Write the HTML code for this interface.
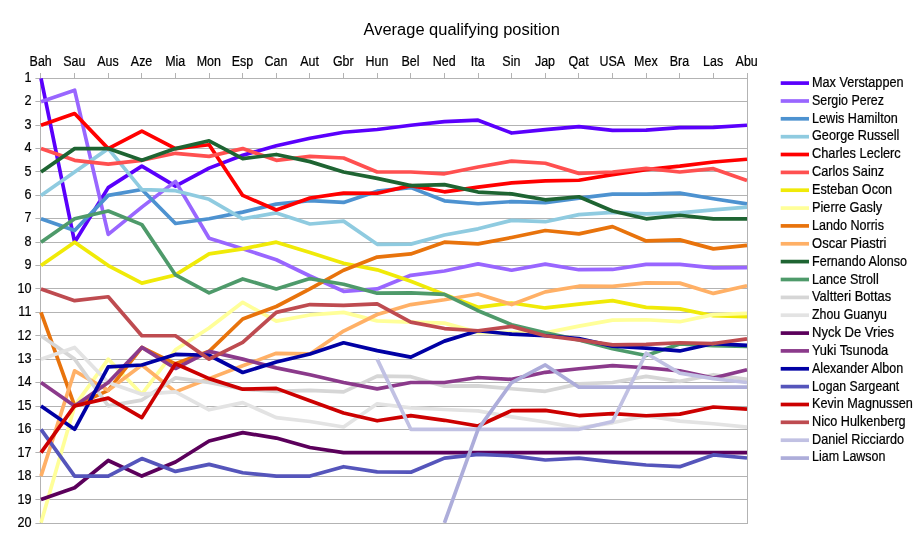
<!DOCTYPE html>
<html lang="en"><head><meta charset="utf-8"><title>Average qualifying position</title>
<style>html,body{margin:0;padding:0;background:#fff}svg{display:block}</style></head>
<body>
<svg width="924" height="541" viewBox="0 0 924 541">
<rect width="924" height="541" fill="#fff"/>
<path d="M35.4 78.5H748 M35.4 101.5H748 M35.4 125.5H748 M35.4 148.5H748 M35.4 171.5H748 M35.4 195.5H748 M35.4 218.5H748 M35.4 242.5H748 M35.4 265.5H748 M35.4 288.5H748 M35.4 312.5H748 M35.4 335.5H748 M35.4 359.5H748 M35.4 382.5H748 M35.4 406.5H748 M35.4 429.5H748 M35.4 452.5H748 M35.4 476.5H748 M35.4 499.5H748 M35.4 523.5H748 M40.5 78V524 M747.5 78V524 M40.5 73V79 M74.5 73V79 M108.5 73V79 M141.5 73V79 M175.5 73V79 M209.5 73V79 M242.5 73V79 M276.5 73V79 M309.5 73V79 M343.5 73V79 M377.5 73V79 M410.5 73V79 M444.5 73V79 M478.5 73V79 M511.5 73V79 M545.5 73V79 M578.5 73V79 M612.5 73V79 M646.5 73V79 M679.5 73V79 M713.5 73V79 M747.5 73V79" stroke="#b3b3b3" stroke-width="1" fill="none"/>
<clipPath id="c"><rect x="30" y="60" width="717.5" height="463.36"/></clipPath>
<g clip-path="url(#c)" fill="none" stroke-linejoin="round" stroke-linecap="butt">
<polyline points="41.00,78.45 74.62,242.18 108.24,187.60 141.86,166.16 175.48,186.04 209.10,168.11 242.71,155.30 276.33,145.70 309.95,138.22 343.57,132.25 377.19,129.48 410.81,125.23 444.43,121.63 478.05,120.22 511.67,133.03 545.29,129.62 578.90,126.61 612.52,130.43 646.14,130.15 679.76,127.57 713.38,127.46 747.00,125.23" stroke="#5a00fc" stroke-width="3.7"/>
<polyline points="41.00,101.84 74.62,90.15 108.24,234.38 141.86,207.10 175.48,181.37 209.10,238.28 242.71,248.86 276.33,259.72 309.95,275.97 343.57,291.30 377.19,288.96 410.81,275.32 444.43,270.97 478.05,263.90 511.67,270.25 545.29,264.11 578.90,269.70 612.52,269.47 646.14,264.34 679.76,264.40 713.38,267.80 747.00,267.70" stroke="#9966ff" stroke-width="3.7"/>
<polyline points="41.00,218.79 74.62,230.49 108.24,195.40 141.86,189.55 175.48,223.47 209.10,218.79 242.71,212.11 276.33,204.17 309.95,200.60 343.57,202.42 377.19,191.15 410.81,187.60 444.43,200.80 478.05,203.75 511.67,201.64 545.29,202.71 578.90,198.15 612.52,194.10 646.14,194.17 679.76,193.06 713.38,198.74 747.00,203.91" stroke="#4d92d0" stroke-width="3.7"/>
<polyline points="41.00,195.40 74.62,172.01 108.24,148.62 141.86,189.55 175.48,190.72 209.10,199.30 242.71,218.79 276.33,212.94 309.95,223.99 343.57,221.13 377.19,244.31 410.81,244.13 444.43,234.98 478.05,228.81 511.67,220.35 545.29,221.71 578.90,214.66 612.52,212.29 646.14,213.87 679.76,212.94 713.38,209.88 747.00,207.10" stroke="#8fcbe0" stroke-width="3.7"/>
<polyline points="41.00,125.23 74.62,113.53 108.24,148.62 141.86,131.08 175.48,148.62 209.10,144.72 242.71,195.40 276.33,210.02 309.95,198.00 343.57,193.06 377.19,193.27 410.81,185.65 444.43,191.80 478.05,187.05 511.67,182.93 545.29,180.78 578.90,180.27 612.52,174.61 646.14,169.55 679.76,166.16 713.38,161.99 747.00,159.25" stroke="#ff0000" stroke-width="3.7"/>
<polyline points="41.00,148.62 74.62,160.31 108.24,164.21 141.86,160.31 175.48,153.30 209.10,156.42 242.71,148.62 276.33,160.31 309.95,156.42 343.57,157.98 377.19,172.01 410.81,172.01 444.43,173.81 478.05,167.00 511.67,161.09 545.29,163.24 578.90,173.39 612.52,172.01 646.14,168.32 679.76,172.01 713.38,168.67 747.00,180.52" stroke="#ff5050" stroke-width="3.7"/>
<polyline points="41.00,265.57 74.62,242.18 108.24,265.57 141.86,283.11 175.48,274.93 209.10,253.88 242.71,248.86 276.33,242.18 309.95,252.58 343.57,263.23 377.19,269.82 410.81,281.16 444.43,294.36 478.05,307.34 511.67,302.99 545.29,307.96 578.90,304.09 612.52,300.66 646.14,307.43 679.76,308.84 713.38,315.69 747.00,316.60" stroke="#f0ea08" stroke-width="3.7"/>
<polyline points="41.00,522.86 74.62,405.91 108.24,359.13 141.86,394.22 175.48,349.77 209.10,327.94 242.71,302.33 276.33,321.12 309.95,314.95 343.57,312.35 377.19,320.86 410.81,322.10 444.43,323.15 478.05,332.40 511.67,332.62 545.29,332.82 578.90,326.11 612.52,320.15 646.14,319.74 679.76,321.71 713.38,314.58 747.00,313.41" stroke="#ffff99" stroke-width="3.7"/>
<polyline points="41.00,312.35 74.62,405.91 108.24,390.32 141.86,347.44 175.48,363.81 209.10,351.33 242.71,319.03 276.33,306.50 309.95,288.96 343.57,270.25 377.19,257.06 410.81,253.88 444.43,242.18 478.05,243.85 511.67,237.50 545.29,230.49 578.90,233.92 612.52,226.59 646.14,240.95 679.76,239.84 713.38,248.86 747.00,245.37" stroke="#e8730c" stroke-width="3.7"/>
<polyline points="41.00,476.08 74.62,370.82 108.24,390.32 141.86,364.98 175.48,391.88 209.10,378.62 242.71,365.81 276.33,353.28 309.95,353.93 343.57,331.06 377.19,314.48 410.81,304.55 444.43,299.76 478.05,293.97 511.67,304.55 545.29,291.88 578.90,286.21 612.52,286.36 646.14,282.80 679.76,283.11 713.38,293.42 747.00,285.77" stroke="#ffb066" stroke-width="3.7"/>
<polyline points="41.00,172.01 74.62,148.62 108.24,148.62 141.86,160.31 175.48,148.62 209.10,140.82 242.71,158.64 276.33,154.47 309.95,161.61 343.57,172.01 377.19,178.39 410.81,185.65 444.43,184.60 478.05,192.06 511.67,193.84 545.29,199.79 578.90,196.78 612.52,210.99 646.14,218.79 679.76,215.28 713.38,218.79 747.00,218.79" stroke="#1e6432" stroke-width="3.7"/>
<polyline points="41.00,242.18 74.62,218.79 108.24,210.99 141.86,224.64 175.48,274.93 209.10,292.86 242.71,278.94 276.33,288.96 309.95,278.56 343.57,284.28 377.19,293.21 410.81,292.86 444.43,294.36 478.05,310.68 511.67,324.82 545.29,332.82 578.90,339.87 612.52,348.73 646.14,355.44 679.76,343.93 713.38,345.76 747.00,346.37" stroke="#4e9a6a" stroke-width="3.7"/>
<polyline points="41.00,335.74 74.62,359.13 108.24,405.91 141.86,400.06 175.48,377.84 209.10,382.52 242.71,389.20 276.33,391.29 309.95,390.32 343.57,391.88 377.19,376.14 410.81,376.67 444.43,386.12 478.05,385.86 511.67,388.76 545.29,391.29 578.90,383.90 612.52,382.52 646.14,376.36 679.76,381.35 713.38,374.72 747.00,379.33" stroke="#d6d6d6" stroke-width="3.7"/>
<polyline points="41.00,359.13 74.62,347.44 108.24,382.52 141.86,394.22 175.48,391.88 209.10,409.81 242.71,402.57 276.33,417.61 309.95,421.50 343.57,426.96 377.19,403.78 410.81,407.86 444.43,409.51 478.05,410.92 511.67,416.83 545.29,421.99 578.90,427.92 612.52,422.80 646.14,415.76 679.76,421.11 713.38,423.73 747.00,427.17" stroke="#e3e3e3" stroke-width="3.7"/>
<polyline points="41.00,499.47 74.62,487.77 108.24,460.49 141.86,476.08 175.48,462.05 209.10,441.00 242.71,432.64 276.33,438.07 309.95,447.49 343.57,452.69 377.19,452.69 410.81,452.69 444.43,452.69 478.05,452.69 511.67,452.69 545.29,452.69 578.90,452.69 612.52,452.69 646.14,452.69 679.76,452.69 713.38,452.69 747.00,452.69" stroke="#5b005b" stroke-width="3.7"/>
<polyline points="41.00,382.52 74.62,405.91 108.24,382.52 141.86,347.44 175.48,368.49 209.10,351.33 242.71,359.13 276.33,367.90 309.95,374.72 343.57,382.52 377.19,388.90 410.81,382.52 444.43,382.52 478.05,377.51 511.67,379.40 545.29,372.29 578.90,368.76 612.52,365.63 646.14,367.75 679.76,370.82 713.38,378.06 747.00,369.76" stroke="#8b3a8b" stroke-width="3.7"/>
<polyline points="41.00,405.91 74.62,429.30 108.24,366.93 141.86,364.98 175.48,354.45 209.10,355.23 242.71,372.50 276.33,362.05 309.95,353.93 343.57,342.76 377.19,350.62 410.81,357.18 444.43,341.14 478.05,330.73 511.67,334.18 545.29,335.74 578.90,338.49 612.52,346.14 646.14,348.05 679.76,350.94 713.38,343.54 747.00,345.31" stroke="#0000a4" stroke-width="3.7"/>
<polyline points="41.00,429.30 74.62,476.08 108.24,476.08 141.86,458.54 175.48,471.40 209.10,464.38 242.71,472.74 276.33,476.08 309.95,476.08 343.57,466.72 377.19,471.83 410.81,472.18 444.43,458.09 478.05,454.36 511.67,455.81 545.29,460.00 578.90,458.19 612.52,461.79 646.14,465.00 679.76,466.72 713.38,454.92 747.00,458.01" stroke="#5555bb" stroke-width="3.7"/>
<polyline points="41.00,452.69 74.62,405.91 108.24,398.11 141.86,417.61 175.48,363.81 209.10,378.62 242.71,389.20 276.33,388.37 309.95,400.71 343.57,412.93 377.19,420.79 410.81,415.66 444.43,420.30 478.05,425.96 511.67,410.59 545.29,410.30 578.90,415.54 612.52,413.71 646.14,415.76 679.76,414.10 713.38,407.02 747.00,409.10" stroke="#cc0000" stroke-width="3.7"/>
<polyline points="41.00,288.96 74.62,300.66 108.24,296.76 141.86,335.74 175.48,335.74 209.10,359.13 242.71,342.42 276.33,312.35 309.95,304.55 343.57,305.33 377.19,303.84 410.81,322.10 444.43,328.54 478.05,330.73 511.67,326.38 545.29,335.74 578.90,339.87 612.52,344.84 646.14,344.36 679.76,342.76 713.38,343.54 747.00,338.93" stroke="#be4b50" stroke-width="3.7"/>
<polyline points="377.19,359.13 410.81,429.30 444.43,429.30 478.05,429.30 511.67,429.30 545.29,429.30 578.90,429.30 612.52,421.50 646.14,353.28 679.76,373.16 713.38,378.62 747.00,382.52" stroke="#c1c1e3" stroke-width="3.7"/>
<polyline points="444.43,522.86 478.05,429.30 511.67,382.52 545.29,364.98 578.90,387.20 612.52,387.20 646.14,387.20 679.76,387.20 713.38,387.20 747.00,387.20" stroke="#adadda" stroke-width="3.7"/>
</g>
<g font-family="'Liberation Sans', sans-serif" fill="#000" stroke="#000" stroke-width="0.22" style="will-change:transform">
<text stroke="none" transform="translate(461.70 35.00) scale(0.9510 1)" font-size="17.3" text-anchor="middle">Average qualifying position</text>
<text transform="translate(40.70 66.00) scale(0.8903 1)" font-size="14.0" text-anchor="middle">Bah</text>
<text transform="translate(74.32 66.00) scale(0.8903 1)" font-size="14.0" text-anchor="middle">Sau</text>
<text transform="translate(107.94 66.00) scale(0.8903 1)" font-size="14.0" text-anchor="middle">Aus</text>
<text transform="translate(141.56 66.00) scale(0.8903 1)" font-size="14.0" text-anchor="middle">Aze</text>
<text transform="translate(175.18 66.00) scale(0.8903 1)" font-size="14.0" text-anchor="middle">Mia</text>
<text transform="translate(208.80 66.00) scale(0.8903 1)" font-size="14.0" text-anchor="middle">Mon</text>
<text transform="translate(242.41 66.00) scale(0.8903 1)" font-size="14.0" text-anchor="middle">Esp</text>
<text transform="translate(276.03 66.00) scale(0.8903 1)" font-size="14.0" text-anchor="middle">Can</text>
<text transform="translate(309.65 66.00) scale(0.8903 1)" font-size="14.0" text-anchor="middle">Aut</text>
<text transform="translate(343.27 66.00) scale(0.8903 1)" font-size="14.0" text-anchor="middle">Gbr</text>
<text transform="translate(376.89 66.00) scale(0.8903 1)" font-size="14.0" text-anchor="middle">Hun</text>
<text transform="translate(410.51 66.00) scale(0.8903 1)" font-size="14.0" text-anchor="middle">Bel</text>
<text transform="translate(444.13 66.00) scale(0.8903 1)" font-size="14.0" text-anchor="middle">Ned</text>
<text transform="translate(477.75 66.00) scale(0.8903 1)" font-size="14.0" text-anchor="middle">Ita</text>
<text transform="translate(511.37 66.00) scale(0.8903 1)" font-size="14.0" text-anchor="middle">Sin</text>
<text transform="translate(544.99 66.00) scale(0.8903 1)" font-size="14.0" text-anchor="middle">Jap</text>
<text transform="translate(578.60 66.00) scale(0.8903 1)" font-size="14.0" text-anchor="middle">Qat</text>
<text transform="translate(612.22 66.00) scale(0.8903 1)" font-size="14.0" text-anchor="middle">USA</text>
<text transform="translate(645.84 66.00) scale(0.8903 1)" font-size="14.0" text-anchor="middle">Mex</text>
<text transform="translate(679.46 66.00) scale(0.8903 1)" font-size="14.0" text-anchor="middle">Bra</text>
<text transform="translate(713.08 66.00) scale(0.8903 1)" font-size="14.0" text-anchor="middle">Las</text>
<text transform="translate(746.70 66.00) scale(0.8903 1)" font-size="14.0" text-anchor="middle">Abu</text>
<text transform="translate(31.50 82.00) scale(0.9045 1)" font-size="14.0" text-anchor="end">1</text>
<text transform="translate(31.50 105.00) scale(0.9045 1)" font-size="14.0" text-anchor="end">2</text>
<text transform="translate(31.50 129.00) scale(0.9045 1)" font-size="14.0" text-anchor="end">3</text>
<text transform="translate(31.50 152.00) scale(0.9045 1)" font-size="14.0" text-anchor="end">4</text>
<text transform="translate(31.50 176.00) scale(0.9045 1)" font-size="14.0" text-anchor="end">5</text>
<text transform="translate(31.50 199.00) scale(0.9045 1)" font-size="14.0" text-anchor="end">6</text>
<text transform="translate(31.50 222.00) scale(0.9045 1)" font-size="14.0" text-anchor="end">7</text>
<text transform="translate(31.50 246.00) scale(0.9045 1)" font-size="14.0" text-anchor="end">8</text>
<text transform="translate(31.50 269.00) scale(0.9045 1)" font-size="14.0" text-anchor="end">9</text>
<text transform="translate(31.50 293.00) scale(0.9045 1)" font-size="14.0" text-anchor="end">10</text>
<text transform="translate(31.50 316.00) scale(0.9045 1)" font-size="14.0" text-anchor="end">11</text>
<text transform="translate(31.50 340.00) scale(0.9045 1)" font-size="14.0" text-anchor="end">12</text>
<text transform="translate(31.50 363.00) scale(0.9045 1)" font-size="14.0" text-anchor="end">13</text>
<text transform="translate(31.50 386.00) scale(0.9045 1)" font-size="14.0" text-anchor="end">14</text>
<text transform="translate(31.50 410.00) scale(0.9045 1)" font-size="14.0" text-anchor="end">15</text>
<text transform="translate(31.50 433.00) scale(0.9045 1)" font-size="14.0" text-anchor="end">16</text>
<text transform="translate(31.50 457.00) scale(0.9045 1)" font-size="14.0" text-anchor="end">17</text>
<text transform="translate(31.50 480.00) scale(0.9045 1)" font-size="14.0" text-anchor="end">18</text>
<text transform="translate(31.50 504.00) scale(0.9045 1)" font-size="14.0" text-anchor="end">19</text>
<text transform="translate(31.50 527.00) scale(0.9045 1)" font-size="14.0" text-anchor="end">20</text>
<text transform="translate(812.00 87.00) scale(0.9050 1)" font-size="14.0">Max Verstappen</text>
<text transform="translate(812.00 105.00) scale(0.8895 1)" font-size="14.0">Sergio Perez</text>
<text transform="translate(812.00 123.00) scale(0.9040 1)" font-size="14.0">Lewis Hamilton</text>
<text transform="translate(812.00 140.00) scale(0.9056 1)" font-size="14.0">George Russell</text>
<text transform="translate(812.00 158.00) scale(0.9134 1)" font-size="14.0">Charles Leclerc</text>
<text transform="translate(812.00 176.00) scale(0.9097 1)" font-size="14.0">Carlos Sainz</text>
<text transform="translate(812.00 194.00) scale(0.9028 1)" font-size="14.0">Esteban Ocon</text>
<text transform="translate(812.00 212.00) scale(0.9124 1)" font-size="14.0">Pierre Gasly</text>
<text transform="translate(812.00 230.00) scale(0.8976 1)" font-size="14.0">Lando Norris</text>
<text transform="translate(812.00 248.00) scale(0.9302 1)" font-size="14.0">Oscar Piastri</text>
<text transform="translate(812.00 266.00) scale(0.8992 1)" font-size="14.0">Fernando Alonso</text>
<text transform="translate(812.00 284.00) scale(0.9024 1)" font-size="14.0">Lance Stroll</text>
<text transform="translate(812.00 301.00) scale(0.9192 1)" font-size="14.0">Valtteri Bottas</text>
<text transform="translate(812.00 319.00) scale(0.8843 1)" font-size="14.0">Zhou Guanyu</text>
<text transform="translate(812.00 337.00) scale(0.9324 1)" font-size="14.0">Nyck De Vries</text>
<text transform="translate(812.00 355.00) scale(0.9192 1)" font-size="14.0">Yuki Tsunoda</text>
<text transform="translate(812.00 373.00) scale(0.8956 1)" font-size="14.0">Alexander Albon</text>
<text transform="translate(812.00 391.00) scale(0.8762 1)" font-size="14.0">Logan Sargeant</text>
<text transform="translate(812.00 408.00) scale(0.9063 1)" font-size="14.0">Kevin Magnussen</text>
<text transform="translate(812.00 426.00) scale(0.9060 1)" font-size="14.0">Nico Hulkenberg</text>
<text transform="translate(812.00 444.00) scale(0.9036 1)" font-size="14.0">Daniel Ricciardo</text>
<text transform="translate(812.00 461.00) scale(0.8903 1)" font-size="14.0">Liam Lawson</text>
</g>
<path d="M780.7 83.1H809" stroke="#5a00fc" stroke-width="3.7"/>
<path d="M780.7 101.0H809" stroke="#9966ff" stroke-width="3.7"/>
<path d="M780.7 118.8H809" stroke="#4d92d0" stroke-width="3.7"/>
<path d="M780.7 136.7H809" stroke="#8fcbe0" stroke-width="3.7"/>
<path d="M780.7 154.5H809" stroke="#ff0000" stroke-width="3.7"/>
<path d="M780.7 172.4H809" stroke="#ff5050" stroke-width="3.7"/>
<path d="M780.7 190.2H809" stroke="#f0ea08" stroke-width="3.7"/>
<path d="M780.7 208.1H809" stroke="#ffff99" stroke-width="3.7"/>
<path d="M780.7 225.9H809" stroke="#e8730c" stroke-width="3.7"/>
<path d="M780.7 243.8H809" stroke="#ffb066" stroke-width="3.7"/>
<path d="M780.7 261.6H809" stroke="#1e6432" stroke-width="3.7"/>
<path d="M780.7 279.5H809" stroke="#4e9a6a" stroke-width="3.7"/>
<path d="M780.7 297.4H809" stroke="#d6d6d6" stroke-width="3.7"/>
<path d="M780.7 315.2H809" stroke="#e3e3e3" stroke-width="3.7"/>
<path d="M780.7 333.1H809" stroke="#5b005b" stroke-width="3.7"/>
<path d="M780.7 350.9H809" stroke="#8b3a8b" stroke-width="3.7"/>
<path d="M780.7 368.8H809" stroke="#0000a4" stroke-width="3.7"/>
<path d="M780.7 386.6H809" stroke="#5555bb" stroke-width="3.7"/>
<path d="M780.7 404.5H809" stroke="#cc0000" stroke-width="3.7"/>
<path d="M780.7 422.3H809" stroke="#be4b50" stroke-width="3.7"/>
<path d="M780.7 440.2H809" stroke="#c1c1e3" stroke-width="3.7"/>
<path d="M780.7 458.1H809" stroke="#adadda" stroke-width="3.7"/>
</svg>
</body></html>
